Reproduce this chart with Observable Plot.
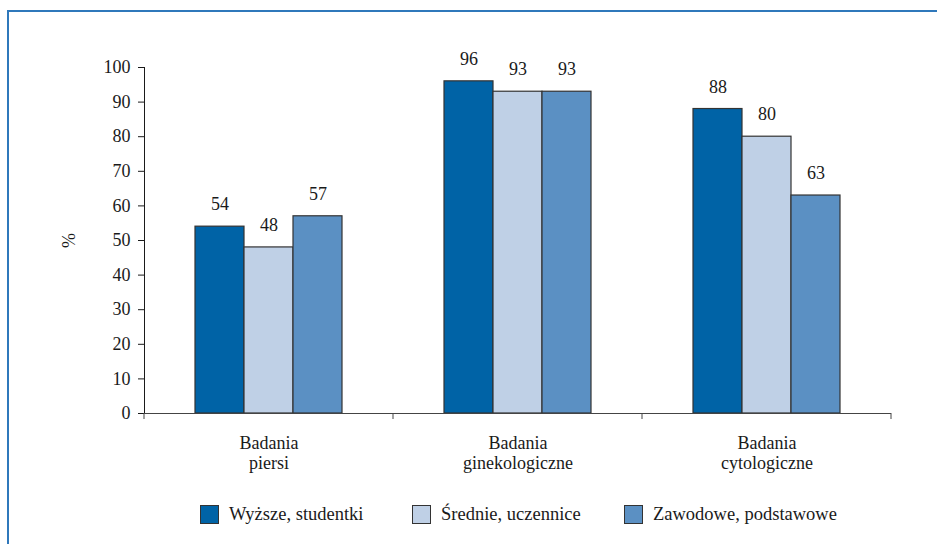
<!DOCTYPE html>
<html>
<head>
<meta charset="utf-8">
<script src="https://cdn.jsdelivr.net/npm/d3@7"></script>
<script src="https://cdn.jsdelivr.net/npm/@observablehq/plot@0.6"></script>
<style>
  html, body { margin: 0; padding: 0; background: #fff; }
  #wrap { position: relative; width: 937px; height: 544px; overflow: hidden;
          font-family: "Liberation Serif", "Times New Roman", serif; color: #1a1a1a; }
  #border { position: absolute; left: 7px; top: 10px; width: 960px; height: 560px;
            border-left: 2px solid #2f78bb; border-top: 2px solid #2f78bb; }
  #chart { position: absolute; left: 0; top: 0; }
  #chart svg, #chart svg text { font-family: "Liberation Serif", "Times New Roman", serif !important; }
  #legend { position: absolute; left: 200px; top: 504px; width: 720px; display: flex;
            font-size: 18.5px; white-space: nowrap; }
  .item { flex: 0 0 212px; display: flex; align-items: center; }
  .sw { width: 19px; height: 19px; border: 1px solid #333; margin-right: 10px; box-sizing: border-box; flex: none; }
</style>
</head>
<body>
<div id="wrap">
  <div id="border"></div>
  <div id="chart"></div>
  <div id="legend"></div>
</div>
<script>
// Categories (x groups), series names and their fill colours
const categories = ["Badania\npiersi", "Badania\nginekologiczne", "Badania\ncytologiczne"];
const series = ["Wyższe, studentki", "Średnie, uczennice", "Zawodowe, podstawowe"];
const colors = ["#0063a6", "#bfd0e6", "#5b90c3"];

// Percentages per series, in category order
const wyzsze = [54, 96, 88];
const srednie = [48, 93, 80];
const zawodowe = [57, 93, 63];

// y-axis ticks
const yTicks = [0, 10, 20, 30, 40, 50, 60, 70, 80, 90, 100];

const seriesValues = [wyzsze, srednie, zawodowe];
const rows = categories.flatMap((c, i) =>
  series.map((s, j) => ({category: c, series: s, value: seriesValues[j][i]}))
);

const serif = "'Liberation Serif', 'Times New Roman', serif";

const chart = Plot.plot({
  width: 937,
  height: 480,
  marginLeft: 143,
  marginRight: 45,
  marginTop: 67,
  marginBottom: 67,
  style: {fontFamily: serif, fontSize: "18px", color: "#1a1a1a", background: "transparent"},
  fx: {domain: categories, padding: 0},
  x: {domain: series, paddingInner: 0, paddingOuter: 1, axis: null},
  y: {domain: [0, 100], ticks: yTicks, tickSize: 6, tickPadding: 8, line: true,
      label: "%", labelAnchor: "center", labelOffset: 82, labelArrow: "none"},
  color: {domain: series, range: colors},
  marks: [
    Plot.axisFx({anchor: "bottom", tickSize: 0, tickPadding: 22, lineHeight: 1.08, label: null}),
    Plot.barY(rows, {fx: "category", x: "series", y: "value", fill: "series", stroke: "#333", strokeWidth: 1.2}),
    Plot.ruleY([0], {stroke: "#444"}),
    Plot.text(rows, {fx: "category", x: "series", y: "value", text: (d) => String(d.value),
                     lineAnchor: "middle", dy: -22, fill: "#1a1a1a"})
  ]
});
d3.select(chart).attr("font-family", serif);

// Group-boundary tick marks below the baseline
const fx = chart.scale("fx");
const y0 = chart.scale("y").apply(0);
const edges = categories.map((c) => fx.apply(c)).concat([fx.apply(categories[categories.length - 1]) + fx.bandwidth]);
d3.select(chart).append("g")
  .attr("stroke", "#444")
  .selectAll("line")
  .data(edges)
  .join("line")
  .attr("x1", (d) => d).attr("x2", (d) => d)
  .attr("y1", y0).attr("y2", y0 + 6);

document.getElementById("chart").append(chart);

// Legend built from the series and colours
const legend = d3.select("#legend").selectAll(".item").data(series).join("div").attr("class", "item");
legend.append("div").attr("class", "sw").style("background", (d, i) => colors[i]);
legend.append("span").text((d) => d);
</script>
</body>
</html>
